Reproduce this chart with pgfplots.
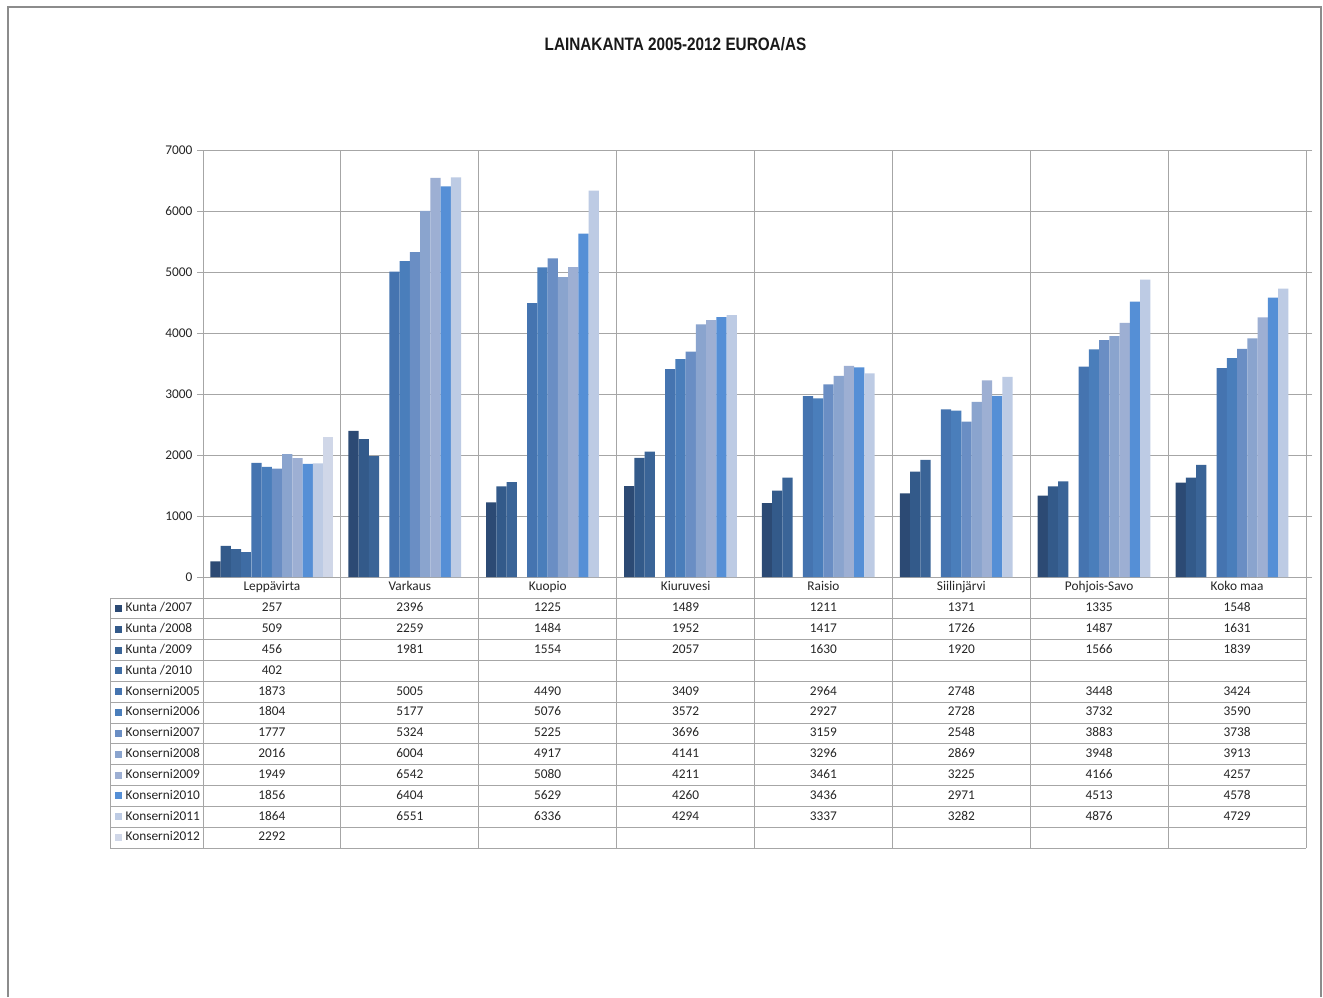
\documentclass[border=0pt]{standalone}
\usepackage{pgfplots}
\pgfplotsset{compat=1.18}
\usepackage{pgfplotstable}
\usepackage{fontspec}
\setmainfont{Carlito}
\newfontfamily\titlefont[FakeStretch=0.85]{Liberation Sans}
\definecolor{gridgray}{HTML}{A6A6A6}
\definecolor{framegray}{HTML}{8C8C8C}
\definecolor{ca}{HTML}{2C4A74}
\definecolor{cb}{HTML}{335A8A}
\definecolor{cc}{HTML}{3A6497}
\definecolor{cd}{HTML}{3E6CA4}
\definecolor{ce}{HTML}{4574B0}
\definecolor{cf}{HTML}{4A7EBB}
\definecolor{cg}{HTML}{6A8EC4}
\definecolor{ch}{HTML}{8AA4CE}
\definecolor{ci}{HTML}{9DAFD3}
\definecolor{cj}{HTML}{558FD6}
\definecolor{ck}{HTML}{BDCBE4}
\definecolor{cl}{HTML}{D0D7E8}
\pgfplotstableread{
cat k07 k08 k09 k10 c05 c06 c07 c08 c09 c10 c11 c12
0 257 509 456 402 1873 1804 1777 2016 1949 1856 1864 2292
1 2396 2259 1981 nan 5005 5177 5324 6004 6542 6404 6551 nan
2 1225 1484 1554 nan 4490 5076 5225 4917 5080 5629 6336 nan
3 1489 1952 2057 nan 3409 3572 3696 4141 4211 4260 4294 nan
4 1211 1417 1630 nan 2964 2927 3159 3296 3461 3436 3337 nan
5 1371 1726 1920 nan 2748 2728 2548 2869 3225 2971 3282 nan
6 1335 1487 1566 nan 3448 3732 3883 3948 4166 4513 4876 nan
7 1548 1631 1839 nan 3424 3590 3738 3913 4257 4578 4729 nan
}\data
\def\nanstr{nan}
\begin{document}
\begin{tikzpicture}[x=0.75pt,y=-0.75pt]
\fill[white] (0,0) rectangle (1323,997);
\draw[framegray, line width=1.3pt] (8,997) -- (8,7) -- (1321,7) -- (1321,997);
\node[font=\titlefont\bfseries\fontsize{13.5}{16}\selectfont, text=black!90] at (675.5,44) {LAINAKANTA 2005-2012 EUROA/AS};
\coordinate (axorig) at (203,577);
\begin{axis}[at={(axorig)}, anchor=south west,
  width=827.25pt, height=320.25pt, scale only axis,
  xmin=0, xmax=8, ymin=0, ymax=7000,
  ytick={0,1000,...,7000}, xtick={1,...,7}, xticklabels={},
  major x tick style={draw=none},
  xmajorgrids, ymajorgrids,
  grid style={gridgray, line width=0.75pt},
  axis line style={gridgray, line width=0.75pt},
  ybar=0pt, bar width=0.0743,
  tick align=outside, major tick length=4.5pt,
  y tick style={gridgray, line width=0.75pt},
  yticklabel style={font=\fontsize{10}{12}\selectfont, text=black!85},
  /pgf/number format/assume math mode=true,
  /pgf/number format/1000 sep={},
  every axis plot/.append style={draw=none},
]
\addplot[fill=ca] table[x expr=\thisrow{cat}+0.5, y=k07]{\data};
\addplot[fill=cb] table[x expr=\thisrow{cat}+0.5, y=k08]{\data};
\addplot[fill=cc] table[x expr=\thisrow{cat}+0.5, y=k09]{\data};
\addplot[fill=cd] table[x expr=\thisrow{cat}+0.5, y=k10]{\data};
\addplot[fill=ce] table[x expr=\thisrow{cat}+0.5, y=c05]{\data};
\addplot[fill=cf] table[x expr=\thisrow{cat}+0.5, y=c06]{\data};
\addplot[fill=cg] table[x expr=\thisrow{cat}+0.5, y=c07]{\data};
\addplot[fill=ch] table[x expr=\thisrow{cat}+0.5, y=c08]{\data};
\addplot[fill=ci] table[x expr=\thisrow{cat}+0.5, y=c09]{\data};
\addplot[fill=cj] table[x expr=\thisrow{cat}+0.5, y=c10]{\data};
\addplot[fill=ck] table[x expr=\thisrow{cat}+0.5, y=c11]{\data};
\addplot[fill=cl] table[x expr=\thisrow{cat}+0.5, y=c12]{\data};
\end{axis}
% data table grid
\begin{scope}[gridgray, line width=0.75pt]
\foreach \i in {0,...,12} {\draw (110,{598+20.833*\i}) -- (1306,{598+20.833*\i});}
\draw (110,598) -- (110,848);
\foreach \j in {0,...,8} {\draw ({203+137.875*\j},577) -- ({203+137.875*\j},848);}
\end{scope}
% category names
\begin{scope}[font=\fontsize{10}{12}\selectfont, text=black!85,
  every node/.style={text height=7pt, text depth=2pt, inner sep=1pt}]
\foreach \n [count=\j from 0] in {Leppävirta,Varkaus,Kuopio,Kiuruvesi,Raisio,Siilinjärvi,Pohjois-Savo,Koko maa}
  {\node at ({203+137.875*\j+68.94},587.5) {\n};}
% series names and keys
\foreach \c [count=\i from 0] in {ca,cb,cc,cd,ce,cf,cg,ch,ci,cj,ck,cl}
  {\fill[\c] (115,{604.9+20.833*\i}) rectangle (122,{611.9+20.833*\i});}
\node[anchor=west] at (124,608.4) {Kunta /2007};
\node[anchor=west] at (124,629.2) {Kunta /2008};
\node[anchor=west] at (124,650.1) {Kunta /2009};
\node[anchor=west] at (124,670.9) {Kunta /2010};
\node[anchor=west] at (124,691.7) {Konserni2005};
\node[anchor=west] at (124,712.6) {Konserni2006};
\node[anchor=west] at (124,733.4) {Konserni2007};
\node[anchor=west] at (124,754.2) {Konserni2008};
\node[anchor=west] at (124,775.1) {Konserni2009};
\node[anchor=west] at (124,795.9) {Konserni2010};
\node[anchor=west] at (124,816.7) {Konserni2011};
\node[anchor=west] at (124,837.6) {Konserni2012};
% values
\foreach \r in {0,...,7} {
  \foreach \c [count=\ci from 0] in {k07,k08,k09,k10,c05,c06,c07,c08,c09,c10,c11,c12} {
    \pgfplotstablegetelem{\r}{\c}\of\data
    \ifx\pgfplotsretval\nanstr\else
      \node at ({203+137.875*\r+68.94},{608.4+20.833*\ci}) {\pgfplotsretval};
    \fi
  }
}
\end{scope}
\end{tikzpicture}
\end{document}
